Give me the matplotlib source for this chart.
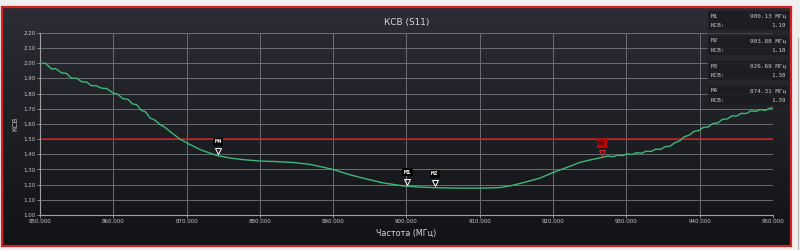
import numpy as np
import matplotlib
matplotlib.use('Agg')
import matplotlib.pyplot as plt
from matplotlib import transforms
from matplotlib.patches import Rectangle
from matplotlib.colors import LinearSegmentedColormap

# КСВ (S11) sweep
freq = [850.0, 850.7, 851.6, 852.1, 853.0, 853.6, 854.3, 855.0, 855.7, 856.4,
        857.0, 857.7, 858.4, 859.1, 860.0, 860.6, 861.3, 862.0, 862.6, 863.2,
        863.8, 864.4, 865.0, 865.7, 866.4, 867.0, 867.7, 868.3, 869.1, 869.7,
        870.5, 871.1, 871.8, 872.5, 873.2, 874.3, 875.9, 877.7, 880.0, 882.3,
        884.6, 886.8, 888.0, 890.0, 892.3, 894.6, 896.8, 899.1, 900.1, 902.0,
        903.9, 906.0, 909.0, 911.0, 912.8, 914.6, 916.4, 918.2, 920.0, 921.9,
        923.7, 925.0, 926.7, 927.5, 928.2, 928.8, 929.5, 930.1, 930.8, 931.4,
        932.1, 932.7, 933.4, 934.0, 934.7, 935.3, 936.0, 936.6, 937.3, 937.9,
        938.6, 939.2, 939.9, 940.5, 941.2, 941.8, 942.5, 943.1, 943.8, 944.4,
        945.1, 945.7, 946.4, 947.0, 947.7, 948.3, 949.0, 949.6, 950.0]
vswr = [1.997, 2.002, 1.962, 1.966, 1.936, 1.934, 1.902, 1.902, 1.878, 1.876,
        1.853, 1.852, 1.836, 1.834, 1.803, 1.797, 1.767, 1.763, 1.733, 1.727,
        1.690, 1.680, 1.640, 1.625, 1.595, 1.580, 1.552, 1.530, 1.500, 1.485,
        1.463, 1.450, 1.432, 1.420, 1.408, 1.390, 1.376, 1.365, 1.356, 1.352,
        1.346, 1.334, 1.322, 1.300, 1.265, 1.237, 1.212, 1.195, 1.190, 1.184,
        1.180, 1.178, 1.177, 1.178, 1.181, 1.197, 1.219, 1.243, 1.280, 1.314,
        1.347, 1.362, 1.380, 1.389, 1.384, 1.395, 1.391, 1.403, 1.399, 1.411,
        1.407, 1.420, 1.419, 1.434, 1.433, 1.450, 1.454, 1.476, 1.489, 1.516,
        1.526, 1.550, 1.557, 1.577, 1.581, 1.603, 1.607, 1.630, 1.634, 1.653,
        1.653, 1.670, 1.669, 1.687, 1.683, 1.695, 1.690, 1.705, 1.707]

limit = 1.50

mk_names = ['M1', 'M2', 'M3', 'M4']
mk_freq = [900.13, 903.88, 926.69, 874.31]
mk_vswr = [1.19, 1.18, 1.38, 1.39]

xticks = np.arange(850, 951, 10)
yticks = np.arange(1.0, 2.201, 0.1)

txt = '#c8c8c8'
grid = '#6c6d73'

fig = plt.figure(figsize=(8, 2.5), dpi=100, facecolor='#efefef')

# dark panel with vertical gradient
bg = fig.add_axes([0.003, 0.018, 0.986, 0.954])
cmap = LinearSegmentedColormap.from_list('bg', ['#2c2d35', '#121316'])
bg.imshow(np.linspace(0, 1, 256).reshape(-1, 1), aspect='auto', cmap=cmap,
          extent=[0, 1, 0, 1], origin='upper')
bg.set_xlim(0, 1)
bg.set_ylim(0, 1)
bg.axis('off')
bg.add_patch(Rectangle((0, 0), 1, 1, transform=bg.transAxes, fill=False,
                       edgecolor='#d42222', lw=1.6, clip_on=False))
fig.add_artist(plt.Line2D([0.997, 0.997], [0.0, 0.85], color='#b8b8b8', lw=0.8))

ax = fig.add_axes([0.05, 0.14, 0.916, 0.728])
ax.set_facecolor('none')
ax.plot(freq, vswr, color='#3cb878', lw=1.0, zorder=3)
ax.axhline(limit, color='#c81e1e', lw=1.1, zorder=2)

ax.set_xlim(850, 950)
ax.set_ylim(1.0, 2.2)
ax.set_xticks(xticks)
ax.set_yticks(yticks)
ax.set_xticklabels(['%.3f' % v for v in xticks])
ax.set_yticklabels(['%.2f' % v for v in yticks])
ax.grid(True, color=grid, lw=0.7)
ax.tick_params(colors='#9a9a9a', labelcolor=txt, labelsize=4, length=2, width=0.6, pad=1)
for s in ['top', 'right']:
    ax.spines[s].set_visible(False)
for s in ['left', 'bottom']:
    ax.spines[s].set_color('#a0a0a0')
    ax.spines[s].set_linewidth(0.8)

ax.set_title('КСВ (S11)', color='#d8d8d8', fontsize=6.4, pad=6)
ax.set_xlabel('Частота (МГц)', color='#d8d8d8', fontsize=5.8, labelpad=3)
ax.set_ylabel('КСВ', color=txt, fontsize=5, labelpad=4)

# markers
tri = transforms.offset_copy(ax.transData, fig=fig, y=3.2, units='points')
for name, f, v in zip(mk_names, mk_freq, mk_vswr):
    red = name == 'M3'
    ec = '#e03030' if red else 'white'
    ax.plot([f], [v], marker='v', ms=4.5, mfc='none', mec=ec, mew=0.7,
            transform=tri, zorder=5, clip_on=False)
    ax.annotate(name, xy=(f, v), xytext=(0, 10), textcoords='offset points',
                ha='center', va='center', fontsize=4.5, fontweight='bold',
                family='DejaVu Sans Mono',
                color='#3a0000' if red else 'white', zorder=6,
                bbox=dict(boxstyle='square,pad=0.25',
                          fc='#c00000' if red else 'black', ec='none'))

# marker readout table (top right)
W, H = 800.0, 250.0
fig.patches.append(Rectangle((707 / W, 1 - 104 / H), 83 / W, 94 / H,
                             transform=fig.transFigure, fc='#25262b', alpha=0.55,
                             ec='none', zorder=10))
for i, (name, f, v) in enumerate(zip(mk_names, mk_freq, mk_vswr)):
    top = 11 + 25 * i
    fig.patches.append(Rectangle((708 / W, 1 - (top + 19) / H), 81 / W, 19 / H,
                                 transform=fig.transFigure, fc='#1b1c20', alpha=0.8,
                                 ec='none', zorder=11))
    y1 = 1 - (top + 5) / H
    y2 = 1 - (top + 14.5) / H
    kw = dict(fontsize=4.3, color=txt, family='DejaVu Sans Mono', va='center', zorder=12)
    fig.text(711 / W, y1, name, ha='left', **kw)
    fig.text(786 / W, y1, '%.2f МГц' % f, ha='right', **kw)
    fig.text(711 / W, y2, 'КСВ:', ha='left', **kw)
    fig.text(786 / W, y2, '%.2f' % v, ha='right', **kw)

fig.savefig('out.png', dpi=100, facecolor=fig.get_facecolor())
